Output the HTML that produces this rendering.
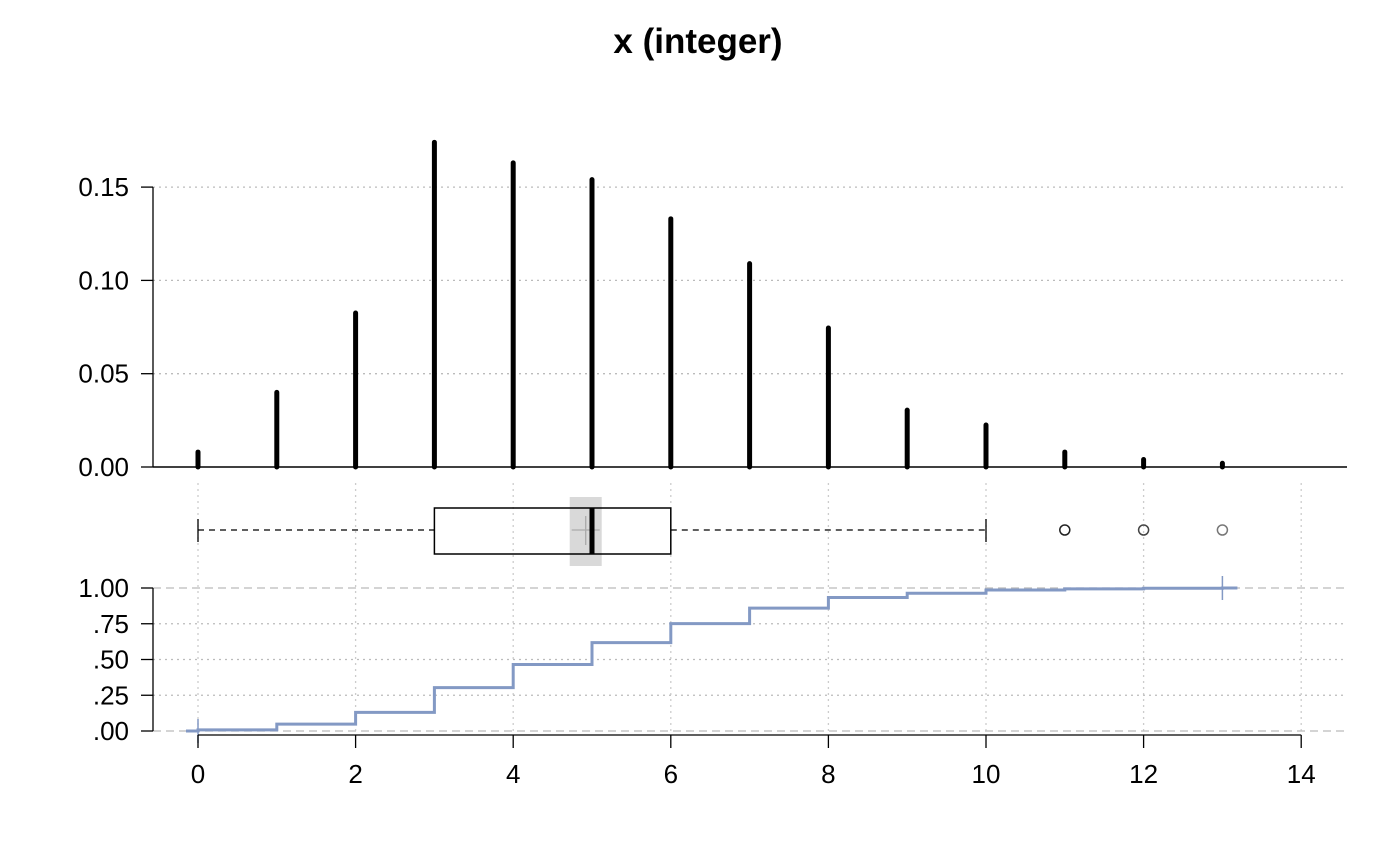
<!DOCTYPE html>
<html><head><meta charset="utf-8"><style>
html,body{margin:0;padding:0;background:#fff;}
svg{display:block;font-family:"Liberation Sans",Arial,sans-serif;}
</style></head><body>
<svg id="chart" width="1400" height="866" viewBox="0 0 1400 866" xmlns="http://www.w3.org/2000/svg">
<text x="698" y="53" text-anchor="middle" font-size="35" font-weight="bold">x (integer)</text>
</svg>
<script>
const categories = [0,1,2,3,4,5,6,7,8,9,10,11,12,13];
const probabilities = [0.008,0.040,0.0825,0.174,0.163,0.154,0.133,0.109,0.0745,0.0305,0.0225,0.008,0.004,0.002];
const xTicks = [0,2,4,6,8,10,12,14];
const xTickLabels = ["0","2","4","6","8","10","12","14"];
const yTicksTop = [0,0.05,0.10,0.15];
const yTickLabelsTop = ["0.00","0.05","0.10","0.15"];
const yTicksEcdf = [0,0.25,0.5,0.75,1];
const yTickLabelsEcdf = [".00",".25",".50",".75","1.00"];
const boxStats = [0,3,5,6,10];
const boxMean = [4.92];
const outliers = [11,12,13];

const NS="http://www.w3.org/2000/svg";
const svg=document.getElementById('chart');
function el(tag,attrs,parent){const e=document.createElementNS(NS,tag);for(const k in attrs)e.setAttribute(k,attrs[k]);(parent||svg).appendChild(e);return e;}
const X=v=>198+v*78.8;
const YT=v=>467-v*1866;
const YE=v=>731-v*143;
const FS=26;

yTicksTop.forEach((t,i)=>{
  if(t>0){const g=el('line',{x1:153,x2:1347,y1:YT(t),y2:YT(t),stroke:'#bbb','stroke-dasharray':'2,4','stroke-width':1.3});
  
  }
  const tk=el('line',{x1:141,x2:153,y1:YT(t),y2:YT(t),stroke:'#000','stroke-width':1.3});
  
  
  const tx=el('text',{x:129,y:YT(t)+9,'text-anchor':'end','font-size':FS});
  tx.textContent=yTickLabelsTop[i];
  
  
});
const ya=el('line',{x1:153,x2:153,y1:YT(0.15),y2:467,stroke:'#000','stroke-width':1.3});


const xa=el('line',{x1:153,x2:1347,y1:467,y2:467,stroke:'#000','stroke-width':1.6});



xTicks.forEach(t=>{
  const g=el('line',{x1:X(t),x2:X(t),y1:483,y2:731,stroke:'#ccc','stroke-dasharray':'2,4','stroke-width':1.3});
  
  
});

categories.forEach((c,i)=>{
  const b=el('line',{x1:X(c),x2:X(c),y1:467,y2:YT(probabilities[i]),stroke:'#000','stroke-width':5,'stroke-linecap':'round'});
  
  
});

const yc=530;
const w1=el('line',{x1:X(boxStats[0]),x2:X(boxStats[1]),y1:yc,y2:yc,stroke:'#000','stroke-dasharray':'6,5','stroke-width':1.3});


const w2=el('line',{x1:X(boxStats[3]),x2:X(boxStats[4]),y1:yc,y2:yc,stroke:'#000','stroke-dasharray':'6,5','stroke-width':1.3});


[boxStats[0],boxStats[4]].forEach(v=>{
  const c=el('line',{x1:X(v),x2:X(v),y1:519,y2:542,stroke:'#000','stroke-width':1.3});
  
  
});
const mr=el('rect',{x:X(boxMean[0])-16,y:497,width:32,height:69,fill:'#d9d9d9'});


const bx=el('rect',{x:X(boxStats[1]),y:508,width:X(boxStats[3])-X(boxStats[1]),height:46,fill:'none',stroke:'#000','stroke-width':1.5});


const mc1=el('line',{x1:X(boxMean[0])-14,x2:X(boxMean[0])+14,y1:yc,y2:yc,stroke:'#aaa','stroke-width':1.3});


const mc2=el('line',{x1:X(boxMean[0]),x2:X(boxMean[0]),y1:516,y2:545,stroke:'#aaa','stroke-width':1.3});


const md=el('line',{x1:X(boxStats[2]),x2:X(boxStats[2]),y1:508,y2:554,stroke:'#000','stroke-width':5});


const ocol=['#222','#444','#777'];
outliers.forEach((o,i)=>{
  const c=el('circle',{cx:X(o),cy:yc,r:5,fill:'none',stroke:ocol[i%3],'stroke-width':1.5});
  
  
});

yTicksEcdf.forEach((t,i)=>{
  const dashed=(t===0||t===1);
  const g=el('line',{x1:153,x2:1347,y1:YE(t),y2:YE(t),stroke:'#bbb','stroke-dasharray':dashed?'8,5':'2,4','stroke-width':1.3});
  
  
  const tk=el('line',{x1:141,x2:153,y1:YE(t),y2:YE(t),stroke:'#000','stroke-width':1.3});
  
  
  const tx=el('text',{x:129,y:YE(t)+9,'text-anchor':'end','font-size':FS});
  tx.textContent=yTickLabelsEcdf[i];
  
  
});
const ya2=el('line',{x1:153,x2:153,y1:YE(1),y2:YE(0),stroke:'#000','stroke-width':1.3});



const total=probabilities.reduce((a,b)=>a+b,0);
let cum=0;let d='M'+(X(categories[0])-12)+','+YE(0)+' H'+X(categories[0]);
categories.forEach((c,i)=>{
  cum+=probabilities[i]/total;
  d+=' V'+YE(cum);
  const next=i<categories.length-1?X(categories[i+1]):X(c)+15;
  d+=' H'+next;
});
const ln=el('path',{d:d,fill:'none',stroke:'#8399c4','stroke-width':3});


[categories[0],categories[categories.length-1]].forEach(v=>{
  const yy=(v===categories[0]?YE(0):YE(1));
  const c=el('line',{x1:X(v),x2:X(v),y1:yy-12,y2:yy+12,stroke:'#8399c4','stroke-width':1.5});
  
  
});

const xa2=el('line',{x1:X(xTicks[0]),x2:X(xTicks[xTicks.length-1]),y1:735,y2:735,stroke:'#000','stroke-width':1.3});


xTicks.forEach((t,i)=>{
  const tk=el('line',{x1:X(t),x2:X(t),y1:735,y2:748,stroke:'#000','stroke-width':1.3});
  
  
  const tx=el('text',{x:X(t),y:783,'text-anchor':'middle','font-size':FS});
  tx.textContent=xTickLabels[i];
  
  
});
</script>
</body></html>
